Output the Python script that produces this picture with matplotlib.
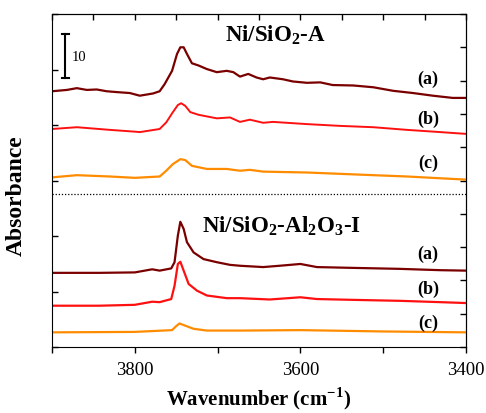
import matplotlib
matplotlib.use('Agg')
import matplotlib.pyplot as plt
from matplotlib.ticker import MultipleLocator

plt.rcParams['font.family'] = ['Liberation Serif', 'DejaVu Serif']
plt.rcParams['mathtext.fontset'] = 'custom'
plt.rcParams['mathtext.rm'] = 'Liberation Serif'
plt.rcParams['mathtext.bf'] = 'Liberation Serif:bold'

# Ni/SiO2-A spectra (offset, arbitrary units)
wn_a1 = [3900, 3882, 3870, 3858, 3846, 3834, 3821, 3806, 3794, 3778, 3770, 3764, 3755,
         3749, 3745, 3741, 3737, 3731, 3723, 3713, 3701, 3689, 3681, 3673, 3663, 3653,
         3645, 3637, 3621, 3609, 3592, 3576, 3561, 3536, 3512, 3488, 3464, 3440, 3416, 3400]
abs_a1 = [57.6, 57.9, 58.3, 57.9, 58.0, 57.6, 57.4, 57.2, 56.6, 57.1, 57.6, 59.2, 62.2,
          66.0, 67.5, 67.5, 66.0, 63.9, 63.4, 62.6, 61.9, 62.2, 61.9, 60.9, 61.5, 60.7,
          60.3, 60.7, 60.3, 59.8, 59.5, 59.6, 59.0, 58.9, 58.5, 57.7, 57.2, 56.6, 56.1, 56.1]

wn_b1 = [3900, 3870, 3830, 3800, 3794, 3770, 3762, 3754, 3748, 3744, 3739, 3733, 3723,
         3701, 3685, 3673, 3661, 3645, 3633, 3592, 3552, 3512, 3471, 3431, 3400]
abs_b1 = [49.1, 49.5, 48.9, 48.5, 48.4, 49.1, 50.6, 52.9, 54.5, 54.9, 54.3, 52.9, 52.3,
          51.5, 51.7, 50.7, 51.2, 50.5, 50.7, 50.2, 49.8, 49.5, 48.9, 48.4, 48.0]

wn_c1 = [3900, 3870, 3830, 3800, 3770, 3762, 3754, 3745, 3739, 3731, 3713, 3689, 3673,
         3661, 3645, 3592, 3552, 3512, 3471, 3431, 3400]
abs_c1 = [38.2, 38.7, 38.4, 38.1, 38.4, 39.7, 41.2, 42.3, 42.1, 40.8, 40.1, 40.1, 39.7,
          39.9, 39.5, 39.3, 39.0, 38.7, 38.4, 38.0, 37.7]

# Ni/SiO2-Al2O3-I spectra
wn_a2 = [3900, 3843, 3800, 3779, 3770, 3756, 3752, 3748, 3745, 3741, 3737, 3729, 3717,
         3701, 3685, 3673, 3645, 3625, 3600, 3580, 3532, 3480, 3431, 3400]
abs_a2 = [16.7, 16.7, 16.8, 17.5, 17.2, 17.7, 19.1, 25.1, 28.2, 26.6, 23.6, 21.3, 19.8,
          19.1, 18.5, 18.3, 18.0, 18.3, 18.7, 18.0, 17.8, 17.6, 17.3, 17.2]

wn_b2 = [3900, 3843, 3800, 3779, 3770, 3756, 3752, 3748, 3745, 3741, 3735, 3725, 3713,
         3689, 3673, 3637, 3600, 3580, 3532, 3480, 3431, 3400]
abs_b2 = [9.3, 9.3, 9.5, 10.2, 10.1, 10.8, 13.8, 18.7, 19.2, 17.2, 14.2, 12.7, 11.6,
          11.0, 11.0, 10.7, 11.2, 10.8, 10.6, 10.4, 10.1, 9.9]

wn_c2 = [3900, 3800, 3755, 3750, 3746, 3739, 3729, 3713, 3673, 3600, 3500, 3400]
abs_c2 = [3.3, 3.4, 3.8, 4.7, 5.3, 4.8, 4.1, 3.7, 3.7, 3.8, 3.5, 3.3]

colors = ['#7a0000', '#ff1010', '#ff8c00']

fig = plt.figure(figsize=(4.86, 4.14), dpi=100)
ax = fig.add_axes([52/486, 1 - 348/414, 414/486, 333/414])

ax.plot(wn_a1, abs_a1, color=colors[0], lw=1.6)
ax.plot(wn_b1, abs_b1, color=colors[1], lw=1.4)
ax.plot(wn_c1, abs_c1, color=colors[2], lw=1.6)
ax.plot(wn_a2, abs_a2, color=colors[0], lw=1.6)
ax.plot(wn_b2, abs_b2, color=colors[1], lw=1.6)
ax.plot(wn_c2, abs_c2, color=colors[2], lw=1.6)

ax.axhline(34.5, color='black', ls=(0, (1, 1.5)), lw=0.9)

ax.set_xlim(3900, 3400)
ax.set_ylim(0, 75)

# x ticks: bottom outward every 100, top inward every 50
ax.set_xticks([3900, 3800, 3700, 3600, 3500, 3400])
ax.set_xticklabels(['', '3800', '', '3600', '', '3400'])
ax.tick_params(axis='x', direction='out', length=4, width=1, labelsize=13.5, pad=6)
ax.tick_params(axis='y', direction='in', length=4, width=1, labelleft=False)
ax.yaxis.set_major_locator(MultipleLocator(12.5))

top = ax.secondary_xaxis('top')
top.xaxis.set_major_locator(MultipleLocator(50))
top.tick_params(direction='in', length=4, width=1, labeltop=False)

right = ax.secondary_yaxis('right')
right.yaxis.set_major_locator(MultipleLocator(7.5))
right.tick_params(direction='in', length=4, width=1, labelright=False)

ax.set_xlabel('Wavenumber (cm$^{\\mathbf{-1}}$)', fontsize=15, fontweight='bold')
ax.xaxis.set_label_coords(0.5, -0.112)
ax.set_ylabel('Absorbance', fontsize=17, fontweight='bold')
ax.yaxis.set_label_coords(-0.06, 0.456)

ax.text(3691, 70.4, 'Ni/SiO$_\\mathbf{2}$-A', fontsize=16.5, fontweight='bold', ha='left', va='center')
ax.text(3719, 27.5, 'Ni/SiO$_\\mathbf{2}$-Al$_\\mathbf{2}$O$_\\mathbf{3}$-I', fontsize=16.5,
        fontweight='bold', ha='left', va='center')

lbl_x = 3446
for y, s in [(60.5, '(a)'), (51.5, '(b)'), (41.5, '(c)'), (21.0, '(a)'), (13.3, '(b)'), (5.6, '(c)')]:
    ax.text(lbl_x, y, s, fontsize=13, fontweight='bold', ha='center', va='center')

# scale bar
ax.plot([3884, 3884], [60.5, 70.4], color='black', lw=1.5)
ax.plot([3888, 3880], [60.5, 60.5], color='black', lw=1.5)
ax.plot([3888, 3880], [70.4, 70.4], color='black', lw=1.5)
ax.text(3876, 65.5, '10', fontsize=10.5, ha='left', va='center')

fig.savefig('out.png', dpi=100)
